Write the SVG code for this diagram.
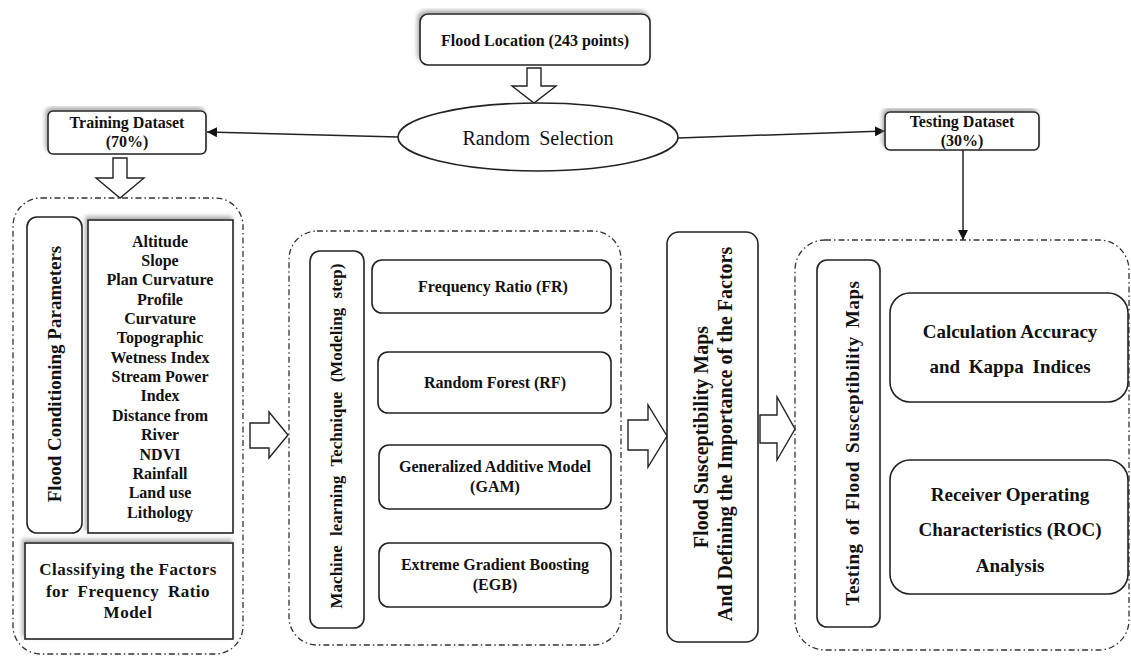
<svg xmlns="http://www.w3.org/2000/svg" width="1131" height="658" viewBox="0 0 1131 658">
<style>
  .box{fill:#fff;stroke:#222;stroke-width:1.6}
  .cont{fill:none;stroke:#333;stroke-width:1.3;stroke-dasharray:6 3 1.5 3}
  .blk{fill:#fff;stroke:#222;stroke-width:1.4;stroke-linejoin:miter}
  .conn{stroke:#222;stroke-width:1.5;fill:none}
  text{font-family:"Liberation Serif","Times New Roman",serif;font-weight:bold;fill:#111;text-anchor:middle}
  .reg{font-weight:normal}
  .s16{font-size:16px}
  .s17{font-size:17px}
  .s19{font-size:19px}
  .s20{font-size:20px}
</style>
<defs>
  <marker id="ah" viewBox="0 0 10 10" refX="10" refY="5" markerWidth="10" markerHeight="10" markerUnits="userSpaceOnUse" orient="auto">
    <path d="M0,0 L10,5 L0,10 z" fill="#111"/>
  </marker>
  <filter id="sh" x="-10%" y="-10%" width="120%" height="120%">
    <feDropShadow dx="-2" dy="-3" stdDeviation="2" flood-color="#888" flood-opacity="0.7"/>
  </filter>
</defs>
<rect width="1131" height="658" fill="#fff"/>

<g id="connectors">
  <line class="conn" x1="398" y1="137" x2="207" y2="132" marker-end="url(#ah)"/>
  <line class="conn" x1="678" y1="138" x2="885" y2="131" marker-end="url(#ah)"/>
  <line class="conn" x1="963" y1="150" x2="963" y2="240" marker-end="url(#ah)"/>
  <polygon class="blk" points="527,68 541,68 541,86 556,86 534,103 512,86 527,86"/>
  <polygon class="blk" points="113,158 127,158 127,178 144,178 120,198 96,178 113,178"/>
  <polygon class="blk" points="250,423 269,423 269,412 288,435 269,458 269,448 250,448"/>
  <polygon class="blk" points="628,420 648,420 648,405 667,436 648,467 648,450 628,450"/>
  <polygon class="blk" points="760,415 777,415 777,397 795,429 777,460 777,443 760,443"/>
</g>

<g id="flood-location">
  <rect class="box" x="420" y="14" width="230" height="51" rx="8" filter="url(#sh)"/>
  <text class="s16" x="535" y="46">Flood Location (243 points)</text>
</g>

<g id="random-selection">
  <ellipse class="box" cx="538" cy="137" rx="140" ry="34"/>
  <text class="reg s20" x="538" y="145" word-spacing="4">Random Selection</text>
</g>

<g id="training-dataset">
  <rect class="box" x="48" y="111" width="158" height="43" rx="5" filter="url(#sh)"/>
  <text class="s16" x="127" y="128">Training Dataset</text>
  <text class="s16" x="127" y="147">(70%)</text>
</g>

<g id="testing-dataset">
  <rect class="box" x="885" y="112" width="154" height="38" rx="5" filter="url(#sh)"/>
  <text class="s16" x="962" y="127">Testing Dataset</text>
  <text class="s16" x="962" y="146">(30%)</text>
</g>

<g id="left-container">
  <rect class="cont" x="13" y="198" width="230" height="456" rx="28"/>
</g>
<g id="flood-conditioning">
  <rect class="box" x="27" y="217" width="55" height="316" rx="10"/>
  <text class="s19" transform="translate(61,374) rotate(-90)">Flood Conditioning Parameters</text>
</g>
<g id="parameters">
  <rect class="box" x="88" y="220" width="145" height="313" filter="url(#sh)"/>
  <text class="s16" x="160" y="246.7">Altitude</text>
  <text class="s16" x="160" y="266">Slope</text>
  <text class="s16" x="160" y="285.4">Plan Curvature</text>
  <text class="s16" x="160" y="304.7">Profile</text>
  <text class="s16" x="160" y="324.1">Curvature</text>
  <text class="s16" x="160" y="343.4">Topographic</text>
  <text class="s16" x="160" y="362.8">Wetness Index</text>
  <text class="s16" x="160" y="382.1">Stream Power</text>
  <text class="s16" x="160" y="401.4">Index</text>
  <text class="s16" x="160" y="420.8">Distance from</text>
  <text class="s16" x="160" y="440.1">River</text>
  <text class="s16" x="160" y="459.5">NDVI</text>
  <text class="s16" x="160" y="478.8">Rainfall</text>
  <text class="s16" x="160" y="498.2">Land use</text>
  <text class="s16" x="160" y="517.5">Lithology</text>
</g>
<g id="classifying">
  <rect class="box" x="25" y="543" width="208" height="96" filter="url(#sh)"/>
  <text class="s17" x="128" y="575" letter-spacing="0.5">Classifying the Factors</text>
  <text class="s17" x="128" y="597" letter-spacing="0.5" word-spacing="4">for Frequency Ratio</text>
  <text class="s17" x="128" y="618" letter-spacing="0.5">Model</text>
</g>

<g id="middle-container">
  <rect class="cont" x="289" y="231" width="332" height="414" rx="28"/>
</g>
<g id="ml-technique">
  <rect class="box" x="310" y="251" width="54" height="377" rx="10"/>
  <text class="s17" transform="translate(342,436) rotate(-90)" word-spacing="5">Machine learning Technique (Modeling step)</text>
</g>
<g id="fr">
  <rect class="box" x="372" y="260" width="239" height="53" rx="10"/>
  <text class="s16" x="493" y="292">Frequency Ratio (FR)</text>
</g>
<g id="rf">
  <rect class="box" x="378" y="352" width="233" height="61" rx="10"/>
  <text class="s16" x="495" y="388">Random Forest (RF)</text>
</g>
<g id="gam">
  <rect class="box" x="379" y="445" width="232" height="64" rx="10"/>
  <text class="s16" x="495" y="472">Generalized Additive Model</text>
  <text class="s16" x="495" y="492">(GAM)</text>
</g>
<g id="egb">
  <rect class="box" x="379" y="543" width="232" height="64" rx="10"/>
  <text class="s16" x="495" y="570">Extreme Gradient Boosting</text>
  <text class="s16" x="495" y="590">(EGB)</text>
</g>

<g id="flood-susceptibility-maps">
  <rect class="box" x="667" y="232" width="91" height="410" rx="12"/>
  <text class="s20" transform="translate(708,437) rotate(-90)">Flood Susceptibility Maps</text>
  <text class="s20" transform="translate(732,434) rotate(-90)">And Defining the Importance of the Factors</text>
</g>

<g id="right-container">
  <rect class="cont" x="795" y="240" width="334" height="410" rx="30"/>
</g>
<g id="testing-maps">
  <rect class="box" x="817" y="260" width="63" height="367" rx="10"/>
  <text class="s19" transform="translate(859,443) rotate(-90)" letter-spacing="0.5" word-spacing="3">Testing of Flood Susceptibility Maps</text>
</g>
<g id="accuracy-kappa">
  <rect class="box" x="890" y="293" width="238" height="109" rx="20"/>
  <text class="s19" x="1010" y="338">Calculation Accuracy</text>
  <text class="s19" x="1010" y="373" word-spacing="4">and Kappa Indices</text>
</g>
<g id="roc">
  <rect class="box" x="890" y="460" width="238" height="134" rx="20"/>
  <text class="s19" x="1010" y="501">Receiver Operating</text>
  <text class="s19" x="1010" y="536">Characteristics (ROC)</text>
  <text class="s19" x="1010" y="572">Analysis</text>
</g>
</svg>
